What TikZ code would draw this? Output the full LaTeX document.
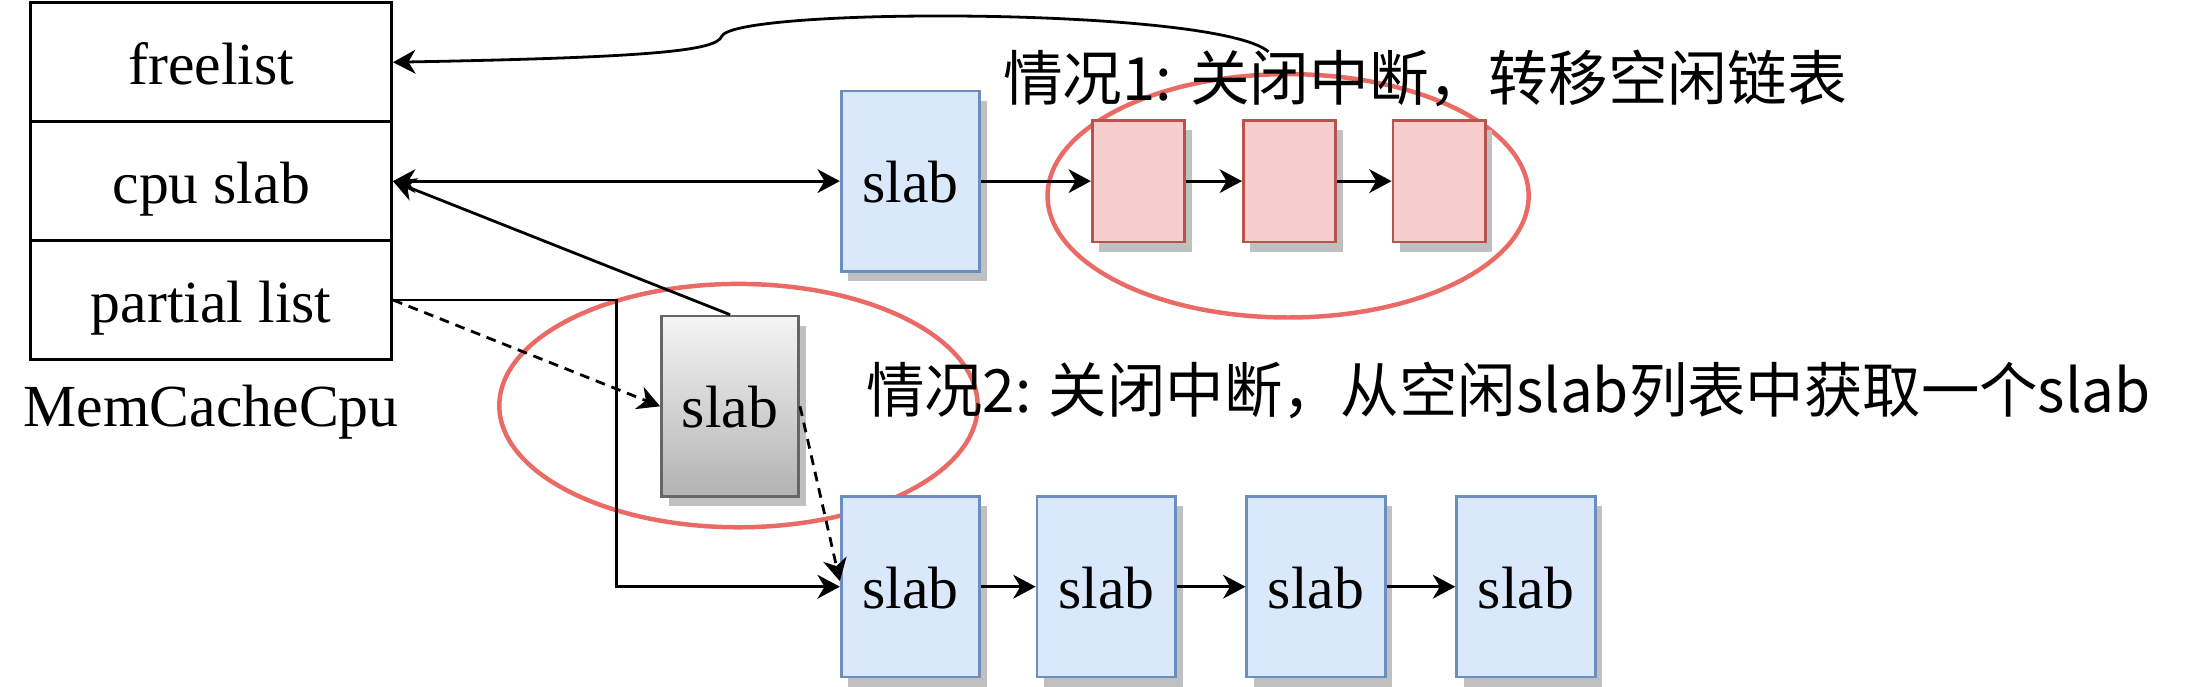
\documentclass[tikz,border=0pt]{standalone}
\usepackage{fontspec}
\setmainfont{Liberation Serif}
\newfontfamily\cjk{Noto Sans CJK SC}
\usetikzlibrary{arrows.meta,shadows}

\definecolor{slabfill}{HTML}{DAE8FC}
\definecolor{slabline}{HTML}{6C8EBF}
\definecolor{objfill}{HTML}{F8CECC}
\definecolor{objline}{HTML}{B85450}
\definecolor{ringred}{HTML}{EA6B66}
\definecolor{greyline}{HTML}{666666}
\definecolor{shadowgrey}{HTML}{C0C0C0}

\tikzset{
  cell/.style={draw, line width=2pt, minimum width=258pt, minimum height=85pt, inner sep=0pt, text height=32pt, text depth=0pt},
  boxshadow/.style={drop shadow={shadow xshift=5pt, shadow yshift=-7pt, fill=shadowgrey, opacity=1}},
  slab/.style={draw=slabline, fill=slabfill, line width=2pt, minimum width=99pt, minimum height=129pt, inner sep=0pt, text height=31pt, text depth=0pt, boxshadow},
  obj/.style={draw=objline, fill=objfill, line width=2pt, minimum width=66pt, minimum height=87pt, inner sep=0pt, boxshadow},
  ring/.style={draw=ringred, line width=3.2pt},
  link/.style={line width=2pt, ->},
  caption/.style={anchor=west, inner sep=0pt, font=\cjk\fontsize{42.7}{48}\selectfont},
}

\begin{document}
\begin{tikzpicture}[x=1pt, y=-1pt,
  >={Stealth[length=16pt, width=17pt, inset=5pt]},
  every node/.style={font=\fontsize{42.7}{48}\selectfont}]
  \useasboundingbox (0,0) rectangle (1568,491);

  % circles round the two cases
  \draw[ring] (921,140) ellipse [x radius=172pt, y radius=87pt];
  \draw[ring] (528,290) ellipse [x radius=171pt, y radius=87pt];

  % MemCacheCpu
  \node[cell] (free) at (151,44.5) {freelist};
  \node[cell] (cpu) at (151,129.5) {cpu slab};
  \node[cell] (partial) at (151,214.5) {partial list};
  \node (cachename) at (151,295) {MemCacheCpu};

  % case 1
  \node[slab] (cslab) at (651,129.5) {slab};
  \node[obj] (obj1) at (814,129.5) {};
  \node[obj] (obj2) at (922,129.5) {};
  \node[obj] (obj3) at (1029,129.5) {};
  \node[caption] (case1) at (717,56) {情况1: 关闭中断，转移空闲链表};

  % case 2
  \node[draw=greyline, line width=2pt, top color=white!96!black, bottom color=black!30,
        minimum width=98pt, minimum height=129pt, inner sep=0pt, text height=31pt, text depth=0pt, boxshadow] (gslab) at (522,290.5) {slab};
  \node[slab] (p1) at (651,419.5) {slab};
  \node[slab] (p2) at (791,419.5) {slab};
  \node[slab] (p3) at (941,419.5) {slab};
  \node[slab] (p4) at (1091,419.5) {slab};
  \node[caption] (case2) at (619,279) {\scalebox{0.978}[1]{情况2: 关闭中断，从空闲slab列表中获取一个slab}};

  % connectors
  \coordinate (loopend) at (907,37);
  \draw[link] (loopend) .. controls (870,5) and (525,5) .. (516,26)
    .. controls (512,36) and (470,41) .. (free.east);
  \draw[link, <->] (cpu.east) -- (cslab.west);
  \draw[link] (cslab) -- (obj1);
  \draw[link] (obj1) -- (obj2);
  \draw[link] (obj2) -- (obj3);
  \draw[link] (gslab.north) -- (cpu.east);
  \coordinate (turn) at (441,214.5);
  \draw[link] (partial.east) -- (turn) |- (p1.west);
  \draw[link, dash pattern=on 7pt off 5pt] (partial.east) -- (gslab.west);
  \draw[link, dash pattern=on 7pt off 5pt] (gslab.east) -- ([yshift=4pt]p1.west);
  \draw[link] (p1) -- (p2);
  \draw[link] (p2) -- (p3);
  \draw[link] (p3) -- (p4);
\end{tikzpicture}
\end{document}
